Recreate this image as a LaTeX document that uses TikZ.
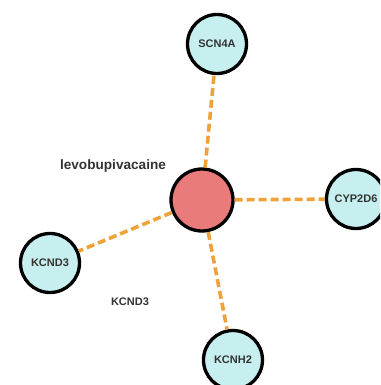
\documentclass[tikz,border=0pt]{standalone}
\usepackage{fontspec}
\setmainfont{Liberation Sans}
\definecolor{edgeor}{HTML}{EFA23A}
\definecolor{genefill}{HTML}{C8EFF0}
\definecolor{drugfill}{HTML}{E97B7B}
\definecolor{txt}{HTML}{333333}
\begin{document}
\begin{tikzpicture}[x=1pt,y=-1pt,
  gene/.style={circle,draw=black,line width=3.3pt,fill=genefill,minimum size=59pt,inner sep=0pt,
    font=\fontsize{11}{13}\selectfont\bfseries,text=txt},
  drug/.style={circle,draw=black,line width=3.3pt,fill=drugfill,minimum size=62pt,inner sep=0pt},
  link/.style={draw=edgeor,line width=3.6pt,dash pattern=on 8pt off 4pt},
  lbl/.style={font=\fontsize{11}{13}\selectfont\bfseries,text=txt},
  biglbl/.style={font=\fontsize{13.6}{15}\selectfont\bfseries,text=txt}]
\useasboundingbox (0,0) rectangle (380,385);
\clip (0,0) rectangle (380,385);
\fill[white] (0,0) rectangle (380,385);
\node[drug] (lev) at (202,200) {};
\node[gene] (scn) at (217,44) {SCN4A};
\node[gene] (cyp) at (356,199) {CYP2D6};
\node[gene] (kcnd) at (50,263) {KCND3};
\node[gene] (kcnh) at (233,360) {KCNH2};
\node[biglbl] (levlbl) at (113,166) {levobupivacaine};
\node[lbl] (kcndlbl) at (130,302) {KCND3};
\path[link] (lev) -- (scn);
\path[link] (lev) -- (cyp);
\path[link] (lev) -- (kcnd);
\path[link] (lev) -- (kcnh);
\end{tikzpicture}
\end{document}
